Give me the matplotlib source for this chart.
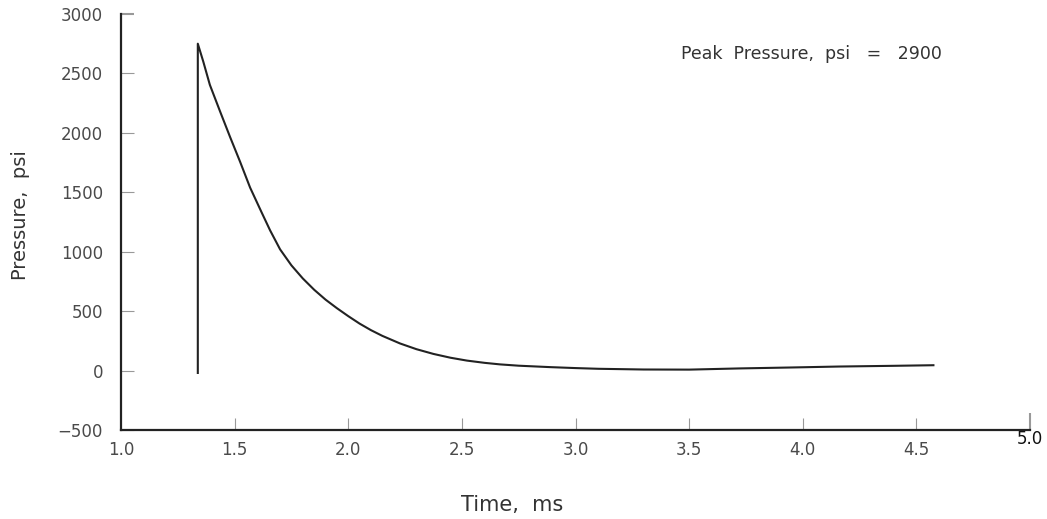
import matplotlib
matplotlib.use("Agg")
import matplotlib.pyplot as plt
from matplotlib.transforms import ScaledTranslation

# Data
time_ms = [1.338, 1.338, 1.362, 1.391, 1.436, 1.480, 1.524, 1.568, 1.619, 1.656,
           1.700, 1.750, 1.800, 1.850, 1.900, 1.950, 2.000, 2.050, 2.100, 2.150,
           2.228, 2.300, 2.375, 2.450, 2.522, 2.600, 2.668, 2.750, 2.888, 3.000,
           3.100, 3.300, 3.500, 3.720, 3.950, 4.160, 4.400, 4.575]
pressure_psi = [-20, 2750, 2600, 2404, 2180, 1965, 1757, 1540, 1330, 1180,
                1020, 885, 775, 680, 597, 525, 458, 395, 340, 292,
                228, 180, 140, 108, 84, 65, 52, 41, 29, 21,
                15, 9, 8, 18, 26, 34, 40, 45]
x_ticks = [1.0, 1.5, 2.0, 2.5, 3.0, 3.5, 4.0, 4.5, 5.0]
x_tick_labels = ["1.0", "1.5", "2.0", "2.5", "3.0", "3.5", "4.0", "4.5", "5.0"]
y_ticks = [-500, 0, 500, 1000, 1500, 2000, 2500, 3000]
y_tick_labels = ["\u2212500", "0", "500", "1000", "1500", "2000", "2500", "3000"]
annotation = "Peak  Pressure,  psi   =   2900"

plt.rcParams['font.family'] = ['DejaVu Sans']
fig = plt.figure(figsize=(10.47, 5.19), dpi=100)
ax = fig.add_axes([121/1047, 1 - 430/519, (1030-121)/1047, (430-14)/519])

ax.plot(time_ms, pressure_psi, color='#222222', lw=1.5)

ax.set_xlim(1.0, 5.0)
ax.set_ylim(-500, 3000)
ax.spines['top'].set_visible(False)
ax.spines['right'].set_visible(False)
for s in ('left', 'bottom'):
    ax.spines[s].set_linewidth(1.6)
    ax.spines[s].set_color('#222222')

ax.set_xticks(x_ticks)
ax.set_xticklabels(x_tick_labels)
ax.set_yticks(y_ticks)
ax.set_yticklabels(y_tick_labels)
ax.tick_params(axis='both', direction='in', length=9, width=0.8, color='#999999',
               labelsize=12, labelcolor='#4a4a4a')
ax.tick_params(axis='y', pad=13)
ax.tick_params(axis='x', pad=8)

# darker end caps
ytk = ax.yaxis.get_major_ticks()
ytk[-1].tick1line.set_color('#222222')
ytk[-1].tick1line.set_markeredgewidth(1.5)
xtk = ax.xaxis.get_major_ticks()
xtk[-1].tick1line.set_color('#222222')
xtk[-1].tick1line.set_markeredgewidth(1.5)
xtk[-1].tick1line.set_markersize(12)
xtk[0].tick1line.set_visible(False)

# 5.0 label sits higher and darker
lab = ax.get_xticklabels()[-1]
lab.set_transform(lab.get_transform() + ScaledTranslation(0, 8/72, fig.dpi_scale_trans))
lab.set_color('#111111')

ax.set_xlabel("Time,  ms", fontsize=15, color='#333333')
ax.xaxis.set_label_coords(0.43, -0.18)
ax.xaxis.label.set_verticalalignment('center')
ax.set_ylabel("Pressure,  psi", fontsize=14, color='#333333')
ax.yaxis.set_label_coords(-0.111, 0.517)
ax.yaxis.label.set_verticalalignment('center')

ax.text(0.903, 0.905, annotation, transform=ax.transAxes, ha='right', va='center',
        fontsize=12.5, color='#333333')

fig.savefig("out.png", dpi=100)
